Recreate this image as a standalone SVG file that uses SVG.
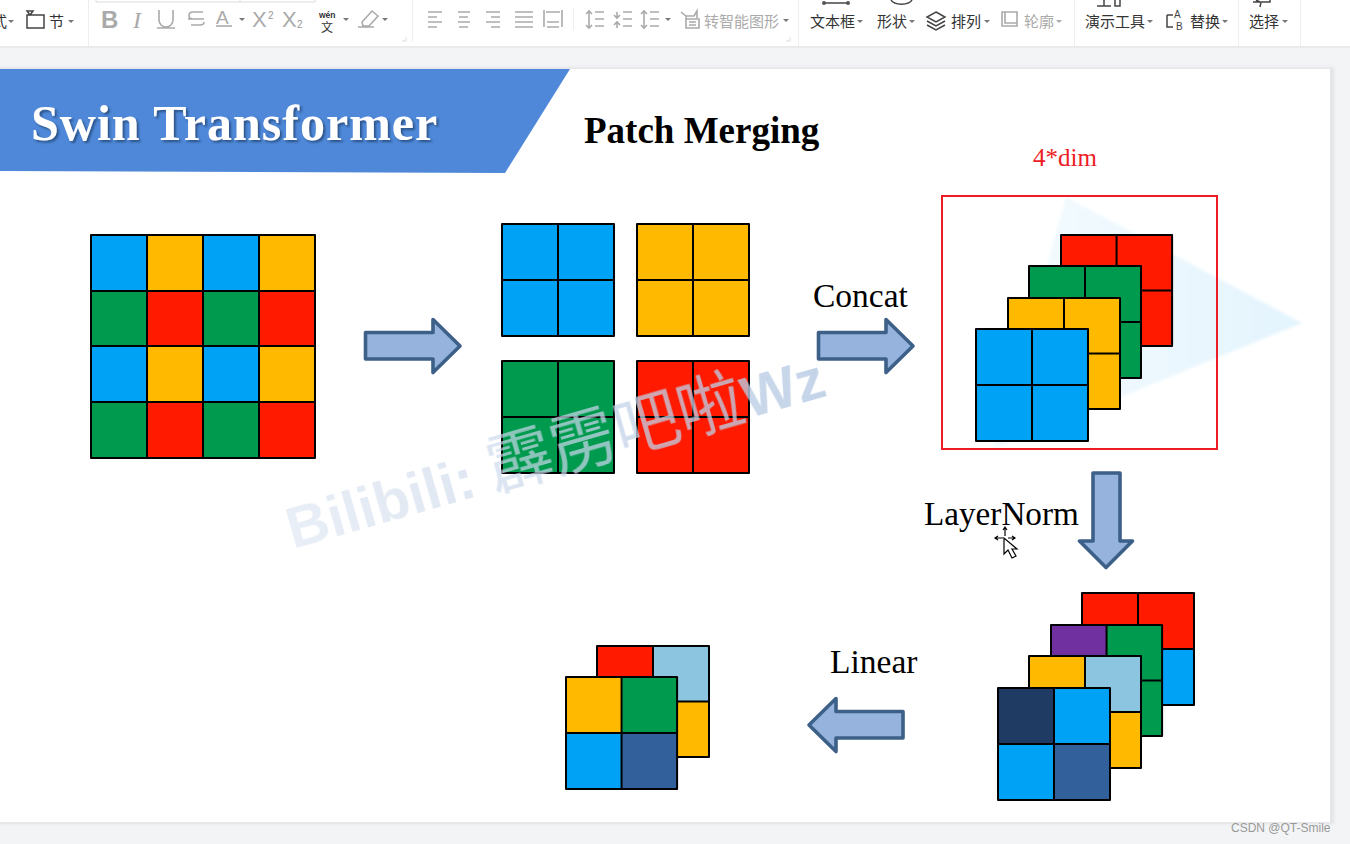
<svg xmlns="http://www.w3.org/2000/svg" width="1350" height="844" viewBox="0 0 1350 844">
<style>
.b{fill:#00a2f5}.y{fill:#ffba00}.g{fill:#009a4e}.r{fill:#ff1a00}.p{fill:#7030a0}.l{fill:#8bc5e0}.n{fill:#1f3b63}.s{fill:#31609a}
.ln{fill:none;stroke:#000;stroke-width:2;stroke-linejoin:round}
.arrow{fill:#95b3dc;stroke:#3d6089;stroke-width:3.600;stroke-linejoin:round}
.serif{font-family:"Liberation Serif","Times New Roman",serif;fill:#000}
.tb{font-family:"Noto Sans CJK SC",sans-serif;font-size:15px;fill:#333}
.tg{font-family:"Noto Sans CJK SC",sans-serif;font-size:15px;fill:#aaa}
.ic{fill:none;stroke:#aaa;stroke-width:1.600}
.id{fill:none;stroke:#444;stroke-width:1.500}
.car{fill:#777}
</style>
<defs>
<g id="grid2"><path class="ln" d="M0 0H112V112H0ZM56 0V112M0 56H112"/></g>
<path id="caret" d="M0 0h6l-3 3z"/>
<linearGradient id="wm" gradientUnits="userSpaceOnUse" x1="0" y1="0" x2="570" y2="0">
<stop offset="0" stop-color="#d3deee" stop-opacity=".5"/>
<stop offset=".3" stop-color="#cfdbec" stop-opacity=".65"/>
<stop offset=".6" stop-color="#c4d3e8" stop-opacity=".75"/>
<stop offset="1" stop-color="#b4c8e2" stop-opacity=".8"/>
</linearGradient>
<linearGradient id="tri" gradientUnits="userSpaceOnUse" x1="1040" y1="0" x2="1300" y2="0">
<stop offset="0" stop-color="#f3fafe"/><stop offset="1" stop-color="#e3f4fd"/>
</linearGradient>
<filter id="sh" x="-5%" y="-20%" width="110%" height="140%"><feDropShadow dx="2" dy="2" stdDeviation="1.200" flood-color="#1d3b66" flood-opacity=".7"/></filter>
<filter id="blur" x="-5%" y="-5%" width="110%" height="110%"><feGaussianBlur stdDeviation="1.500"/></filter>
<filter id="soft" x="-5%" y="-20%" width="110%" height="140%"><feGaussianBlur stdDeviation=".5"/></filter>
</defs>

<rect width="1350" height="844" fill="#f3f4f6"/>
<g id="toolbar">
<rect width="1350" height="46" fill="#fff"/>
<rect y="46" width="1350" height="2" fill="#ebebeb"/>
<path d="M88.500 0V46M412.500 0V42M798.500 0V46M1074.500 0V46M1238.500 0V46M1300.500 0V46M573.500 8V30" stroke="#eeeeee" fill="none"/>
<path d="M96 0V2H315V0M240 0V2" stroke="#ddd" fill="none"/>
<text class="tb" x="-8" y="27">式</text><use href="#caret" x="8" y="20" class="car"/>
<path class="id" d="M27 15h17v13H27zM27 11h6l-3 4z"/>
<text class="tb" x="49" y="27">节</text><use href="#caret" x="68" y="20" class="car"/>
<text x="101" y="28" font-family="Liberation Sans,sans-serif" font-weight="bold" font-size="24" fill="#aaa">B</text>
<text x="133" y="28" font-family="Liberation Serif,serif" font-style="italic" font-size="24" fill="#aaa">I</text>
<path class="ic" d="M159 10v10a7 7 0 0 0 14 0V10M157 28h18"/>
<path class="ic" d="M203 12h-10q-4 0-4 3.500t4 3.500h10M188 19h16M191 25h9q4 0 4-3"/>
<text x="216" y="24" font-family="Liberation Sans,sans-serif" font-size="19" fill="#aaa">A</text>
<rect x="216" y="25" width="16" height="2" fill="#bbb"/><use href="#caret" x="239" y="18" class="car"/>
<text x="252" y="27" font-family="Liberation Sans,sans-serif" font-size="22" fill="#aaa">X</text><text x="268" y="19" font-family="Liberation Sans,sans-serif" font-size="10" fill="#999">2</text>
<text x="282" y="27" font-family="Liberation Sans,sans-serif" font-size="22" fill="#aaa">X</text><text x="297" y="28" font-family="Liberation Sans,sans-serif" font-size="10" fill="#999">2</text>
<text x="319" y="18" font-family="Liberation Sans,sans-serif" font-size="8.500" font-weight="bold" fill="#333">wén</text>
<text x="321" y="32" font-family="Noto Sans CJK SC,sans-serif" font-size="12" fill="#333">文</text><use href="#caret" x="343" y="18" class="car"/>
<path class="ic" d="M362 22l10-11 6 5-9 10h-6zM358 27h16"/><use href="#caret" x="382" y="18" class="car"/>
<path d="M402 41h4v-4" stroke="#ddd" fill="none"/>
<path class="ic" d="M428 12h14M428 17h9M428 22h14M428 27h9M458 12h12M459 17h9M458 22h12M459 27h9M486 12h14M491 17h9M486 22h14M491 27h9M515 12h18M515 17h18M515 22h18M515 27h18M544 10v17M562 10v17M546 12h14M547 22h12M547 27h12"/>
<path class="ic" d="M589 12v15M586 14l3-3 3 3M586 25l3 3 3-3M595 12h9M595 19h9M595 26h9"/>
<path class="ic" d="M617 12v6M614 15l3 3 3-3M617 22v6M614 25l3-3 3 3M623 12h9M623 19h9M623 26h9"/>
<path class="ic" d="M644 11v17M641 14l3-3 3 3M641 25l3 3 3-3M650 12h9M650 19h9M650 26h9"/>
<use href="#caret" x="665" y="18" class="car"/>
<path class="ic" d="M681 12l5 4h8l3-5v7M686 16v12h13V19h-13M689 22h7M689 25h7"/>
<text class="tg" x="704" y="27">转智能图形</text><use href="#caret" x="783" y="19" class="car"/>
<path d="M786 41h4v-4" stroke="#ddd" fill="none"/>
<path d="M824 3h24" stroke="#444" stroke-width="1.500"/><circle cx="824" cy="3" r="2" fill="#555"/><circle cx="848" cy="3" r="2" fill="#555"/>
<text class="tb" x="810" y="27">文本框</text><use href="#caret" x="857" y="20" class="car"/>
<path class="id" d="M891 0a11 6 0 0 0 21 0" fill="#f2f2f2"/>
<text class="tb" x="877" y="27">形状</text><use href="#caret" x="909" y="20" class="car"/>
<path class="id" d="M936 12l9 5-9 5-9-5zM927 21l9 5 9-5M927 25l9 5 9-5"/>
<text class="tb" x="951" y="27">排列</text><use href="#caret" x="984" y="20" class="car"/>
<path class="ic" d="M1002 12h15v14h-15zM1005 12v11h12"/>
<text class="tg" x="1024" y="27">轮廓</text><use href="#caret" x="1056" y="20" class="car" style="fill:#aaa"/>
<path class="id" d="M1097 6h14M1115 0v6h5V0M1104 0v6"/>
<text class="tb" x="1085" y="27">演示工具</text><use href="#caret" x="1147" y="20" class="car"/>
<path class="id" d="M1167 15h6M1167 15v12h6"/>
<text x="1174" y="18" font-family="Liberation Sans,sans-serif" font-size="10" fill="#444">A</text>
<text x="1176" y="30" font-family="Liberation Sans,sans-serif" font-size="10" fill="#444">B</text>
<text class="tb" x="1190" y="27">替换</text><use href="#caret" x="1222" y="20" class="car"/>
<path class="id" d="M1256 0l4 2h-7M1270 0v2h-9l-1 5"/>
<text class="tb" x="1249" y="27">选择</text><use href="#caret" x="1282" y="20" class="car"/>
</g>

<g id="slide">
<rect x="-2" y="67" width="1336" height="757" fill="#e4e5e8" filter="url(#blur)"/>
<rect x="0" y="69" width="1330" height="753" fill="#fff"/>
</g>

<g id="banner">
<polygon points="0,69 570,69 505,173 0,171" fill="#4f88d8"/>
<text x="31" y="140" class="serif" font-size="50" font-weight="bold" letter-spacing="1" style="fill:#fff" filter="url(#sh)">Swin Transformer</text>
</g>
<text id="title" x="584" y="143" class="serif" font-size="37" font-weight="bold">Patch Merging</text>

<polygon id="bg-triangle" points="1066,197 1302,323 993,449 1048,262" fill="url(#tri)" filter="url(#blur)"/>

<g id="grid-4x4">
<rect class="b" x="91" y="235" width="56" height="56"/><rect class="y" x="147" y="235" width="56" height="56"/><rect class="b" x="203" y="235" width="56" height="56"/><rect class="y" x="259" y="235" width="56" height="56"/>
<rect class="g" x="91" y="291" width="56" height="56"/><rect class="r" x="147" y="291" width="56" height="56"/><rect class="g" x="203" y="291" width="56" height="56"/><rect class="r" x="259" y="291" width="56" height="56"/>
<rect class="b" x="91" y="346" width="56" height="56"/><rect class="y" x="147" y="346" width="56" height="56"/><rect class="b" x="203" y="346" width="56" height="56"/><rect class="y" x="259" y="346" width="56" height="56"/>
<rect class="g" x="91" y="402" width="56" height="56"/><rect class="r" x="147" y="402" width="56" height="56"/><rect class="g" x="203" y="402" width="56" height="56"/><rect class="r" x="259" y="402" width="56" height="56"/>
<path class="ln" d="M91 235H315V458H91ZM147 235V458M203 235V458M259 235V458M91 291H315M91 346H315M91 402H315"/>
</g>

<g id="split-blue" transform="translate(502 224)"><rect class="b" width="112" height="112"/><use href="#grid2"/></g>
<g id="split-yellow" transform="translate(637 224)"><rect class="y" width="112" height="112"/><use href="#grid2"/></g>
<g id="split-green" transform="translate(502 361)"><rect class="g" width="112" height="112"/><use href="#grid2"/></g>
<g id="split-red" transform="translate(637 361)"><rect class="r" width="112" height="112"/><use href="#grid2"/></g>

<g id="concat-stack">
<rect x="942" y="196" width="275" height="253" fill="none" stroke="#ee1c25" stroke-width="2"/>
<g transform="translate(1061 235) scale(.992)"><rect class="r" width="112" height="112"/><use href="#grid2"/></g>
<g transform="translate(1029 266)"><rect class="g" width="112" height="112"/><use href="#grid2"/></g>
<g transform="translate(1008 298) scale(1 .992)"><rect class="y" width="112" height="112"/><use href="#grid2"/></g>
<g transform="translate(976 329)"><rect class="b" width="112" height="112"/><use href="#grid2"/></g>
</g>
<text id="dim-label" x="1033" y="166" class="serif" font-size="25" style="fill:#ee1c25">4*dim</text>

<g id="norm-stack">
<g transform="translate(1082 593)"><rect class="r" width="112" height="56"/><rect class="b" y="56" width="112" height="56"/><use href="#grid2"/></g>
<g transform="translate(1051 625) scale(.992)"><rect class="g" width="112" height="112"/><rect class="p" width="56" height="56"/><use href="#grid2"/></g>
<g transform="translate(1029 656)"><rect class="y" width="112" height="112"/><rect class="l" x="56" width="56" height="56"/><use href="#grid2"/></g>
<g transform="translate(998 688)"><rect class="b" width="112" height="112"/><rect class="n" width="56" height="56"/><rect class="s" x="56" y="56" width="56" height="56"/><use href="#grid2"/></g>
</g>

<g id="linear-stack">
<g transform="translate(597 646) scale(1 .992)"><rect class="y" width="112" height="112"/><rect class="r" width="56" height="56"/><rect class="l" x="56" width="56" height="56"/><use href="#grid2"/></g>
<g transform="translate(566 677) scale(.992 1)"><rect class="y" width="56" height="56"/><rect class="g" x="56" width="56" height="56"/><rect class="b" y="56" width="56" height="56"/><rect class="s" x="56" y="56" width="56" height="56"/><use href="#grid2"/></g>
</g>

<g id="connectors">
<path class="arrow" d="M365.500 332.500H433V319.500L460 346 433 372.500V359H365.500Z"/>
<path class="arrow" d="M818.500 332.500H886V319.500L913 346 886 372.500V359H818.500Z"/>
<path class="arrow" d="M1093 473H1120V541H1132.500L1106 567.500 1079.500 541H1093Z"/>
<path class="arrow" d="M903 711.500H836V698.500L809 725 836 751.500V738H903Z"/>
</g>

<text id="concat-label" x="813" y="307" class="serif" font-size="33.500">Concat</text>
<text id="layernorm-label" x="924" y="525" class="serif" font-size="33.200">LayerNorm</text>
<text id="linear-label" x="830" y="673" class="serif" font-size="33.500">Linear</text>

<g id="cursor">
<path d="M1005 528v8M1003 530l2-3 2 3M996 538h7M998 536l-3 2 3 2M1008 538h6M1012 536l3 2-3 2" stroke="#000" stroke-width="1.200" fill="none"/>
<path d="M1004 538v16l4-4 4 8 4-2-4-7h5z" fill="#fff" stroke="#000" stroke-width="1.200"/>
</g>

<text id="watermark" transform="translate(293 549) rotate(-16)" font-family="Liberation Sans,Noto Sans CJK SC,sans-serif" font-weight="bold" font-size="58" style="fill:url(#wm)" filter="url(#soft)">Bilibili: <tspan font-family="Noto Sans CJK SC,sans-serif" font-weight="400" font-size="66">霹雳吧啦</tspan>Wz</text>

<text id="credit" x="1231" y="832" font-family="Liberation Sans,sans-serif" font-size="12" fill="#999">CSDN @QT-Smile</text>
</svg>
